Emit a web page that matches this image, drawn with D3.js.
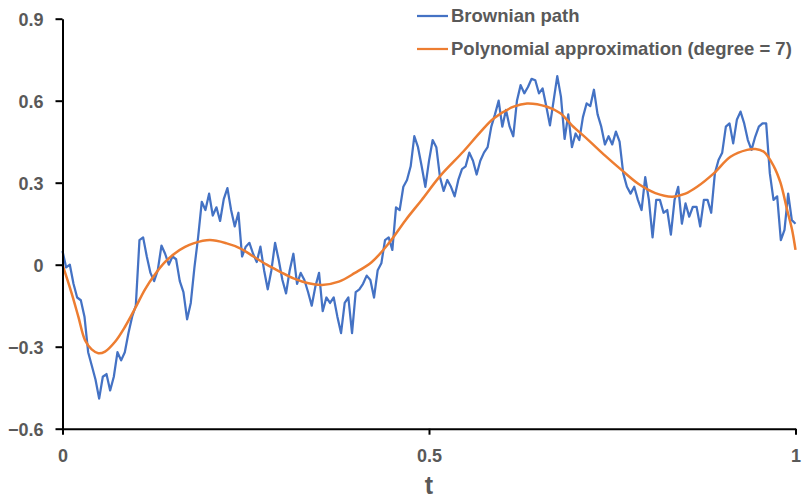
<!DOCTYPE html>
<html>
<head>
<meta charset="utf-8">
<script src="https://cdn.jsdelivr.net/npm/d3@7"></script>
<style>
  body { margin: 0; background: #fff; }
  svg text { font-family: "Liberation Sans", Arial, sans-serif; font-weight: bold; fill: #595959; }
</style>
</head>
<body>
<script>
// Brownian path, sampled every 1/200 on t in [0, 1]
const brownStep = 1 / 200;
const brownValues = [
  0.05, -0.01, 0.0, -0.07, -0.12, -0.13, -0.19, -0.32, -0.37, -0.42,
  -0.49, -0.41, -0.40, -0.46, -0.41, -0.32, -0.35, -0.32, -0.25, -0.19,
  -0.15, 0.09, 0.10, 0.03, -0.03, -0.06, -0.02, 0.07, 0.04, 0.0,
  0.03, 0.02, -0.06, -0.10, -0.20, -0.14, -0.01, 0.10, 0.23, 0.20,
  0.26, 0.18, 0.21, 0.16, 0.24, 0.28, 0.20, 0.14, 0.19, 0.03,
  0.066, 0.08, 0.04, 0.01, 0.066, -0.02, -0.09, -0.02, 0.08, 0.017,
  -0.056, -0.105, -0.02, 0.04, -0.07, -0.03, -0.056, -0.10, -0.15, -0.08,
  -0.03, -0.17, -0.12, -0.14, -0.12, -0.19, -0.25, -0.14, -0.12, -0.25,
  -0.10, -0.09, -0.07, -0.04, -0.056, -0.12, -0.02, 0.005, 0.09, 0.10,
  0.054, 0.21, 0.20, 0.285, 0.31, 0.36, 0.47, 0.43, 0.36, 0.285,
  0.38, 0.456, 0.43, 0.32, 0.27, 0.31, 0.285, 0.25, 0.31, 0.35,
  0.36, 0.41, 0.38, 0.33, 0.38, 0.41, 0.43, 0.505, 0.55, 0.60,
  0.505, 0.566, 0.505, 0.47, 0.60, 0.657, 0.627, 0.65, 0.68, 0.675,
  0.627, 0.645, 0.58, 0.51, 0.60, 0.69, 0.615, 0.46, 0.55, 0.43,
  0.48, 0.456, 0.54, 0.59, 0.58, 0.64, 0.55, 0.505, 0.44, 0.47,
  0.44, 0.487, 0.45, 0.334, 0.285, 0.26, 0.285, 0.237, 0.20, 0.32,
  0.237, 0.10, 0.237, 0.237, 0.19, 0.20, 0.11, 0.237, 0.285, 0.15,
  0.224, 0.176, 0.212, 0.212, 0.14, 0.237, 0.237, 0.19, 0.334, 0.383,
  0.41, 0.505, 0.517, 0.444, 0.53, 0.56, 0.517, 0.456, 0.42, 0.468,
  0.505, 0.517, 0.517, 0.334, 0.237, 0.25, 0.09, 0.127, 0.26, 0.163,
  0.15
];

// polynomial approximation
const polyT = [
  0, 0.0125, 0.0216, 0.0307, 0.0398, 0.0489, 0.058, 0.0717, 0.0853, 0.099,
  0.1126, 0.1263, 0.14, 0.1536, 0.1672, 0.1786, 0.201, 0.224, 0.2423, 0.2605,
  0.2787, 0.2969, 0.3151, 0.3356, 0.354, 0.377, 0.399, 0.422, 0.445, 0.468,
  0.49, 0.5154, 0.5472, 0.57, 0.5882, 0.6155, 0.6337, 0.661, 0.6792, 0.695,
  0.7178, 0.7406, 0.7633, 0.786, 0.8088, 0.8316, 0.8498, 0.8658, 0.8885, 0.9113,
  0.934, 0.9454, 0.9568, 0.9704, 0.9795, 0.9886, 0.9954, 1
];
const polyValues = [
  0, -0.105, -0.19, -0.276, -0.31, -0.324, -0.318, -0.282, -0.227, -0.16,
  -0.09, -0.035, 0.01, 0.042, 0.065, 0.078, 0.09, 0.078, 0.06, 0.03,
  0.0, -0.026, -0.05, -0.068, -0.074, -0.062, -0.03, 0.01, 0.078, 0.163,
  0.237, 0.325, 0.415, 0.485, 0.535, 0.578, 0.59, 0.578, 0.554, 0.51,
  0.455, 0.398, 0.345, 0.295, 0.262, 0.249, 0.26, 0.285, 0.334, 0.395,
  0.42, 0.423, 0.413, 0.36, 0.30, 0.20, 0.127, 0.054
];

const yTicks = [-0.6, -0.3, 0, 0.3, 0.6, 0.9];
const xTicks = [0, 0.5, 1];
const xTickLabels = ["0", "0.5", "1"];
const seriesNames = ["Brownian path", "Polynomial approximation (degree = 7)"];
const seriesColors = ["#4472C4", "#ED7D31"];

const svgWidth = 802;
const svgHeight = 501;
const margin = { top: 18.7, right: 6.5, bottom: 72.3, left: 62.5 };
const width = svgWidth - margin.left - margin.right;
const height = svgHeight - margin.top - margin.bottom;

const svg = d3.select("body").append("svg")
  .attr("width", svgWidth)
  .attr("height", svgHeight);

const g = svg.append("g")
  .attr("transform", `translate(${margin.left},${margin.top})`);

const xScale = d3.scaleLinear().domain([0, 1]).range([0, width]);
const yScale = d3.scaleLinear().domain([-0.6, 0.9]).range([height, 0]);

// series
const brownData = brownValues.map((v, i) => [i * brownStep, v]);
const polyData = polyT.map((t, i) => [t, polyValues[i]]);

g.append("path")
  .datum(brownData)
  .attr("fill", "none")
  .attr("stroke", seriesColors[0])
  .attr("stroke-width", 2.25)
  .attr("stroke-linejoin", "round")
  .attr("d", d3.line().x(d => xScale(d[0])).y(d => yScale(d[1])));

g.append("path")
  .datum(polyData)
  .attr("fill", "none")
  .attr("stroke", seriesColors[1])
  .attr("stroke-width", 2.5)
  .attr("d", d3.line().curve(d3.curveCatmullRom.alpha(0.5))
    .x(d => xScale(d[0])).y(d => yScale(d[1])));

// axes
const yAxis = g.append("g")
  .call(d3.axisLeft(yScale).tickValues(yTicks).tickSize(7).tickSizeOuter(0)
    .tickFormat(d => d3.format("")(+d.toFixed(1))));
const xAxis = g.append("g")
  .attr("transform", `translate(0,${height})`)
  .call(d3.axisBottom(xScale).tickValues(xTicks).tickSize(6).tickSizeOuter(0)
    .tickFormat((d, i) => xTickLabels[i]));

[yAxis, xAxis].forEach(ax => {
  ax.select(".domain").attr("stroke", "#000").attr("stroke-width", 2);
  ax.selectAll(".tick line").attr("stroke", "#000").attr("stroke-width", 2);
  ax.selectAll(".tick text")
    .attr("fill", "#595959")
    .style("font-size", "18px");
});
yAxis.selectAll(".tick text").attr("x", -19).attr("dy", "0.35em");
xAxis.selectAll(".tick text").attr("y", 21);

g.append("text")
  .attr("x", xScale(0.5))
  .attr("y", height + 65)
  .attr("text-anchor", "middle")
  .style("font-size", "25px")
  .text("t");

// legend
const legend = svg.append("g");
seriesNames.forEach((name, i) => {
  const ly = 16 + i * 33;
  legend.append("line")
    .attr("x1", 417).attr("x2", 448)
    .attr("y1", ly).attr("y2", ly)
    .attr("stroke", seriesColors[i])
    .attr("stroke-width", 2.25);
  legend.append("text")
    .attr("x", 451)
    .attr("y", ly)
    .attr("dy", "0.35em")
    .style("font-size", "18.5px")
    .text(name);
});
</script>
</body>
</html>
